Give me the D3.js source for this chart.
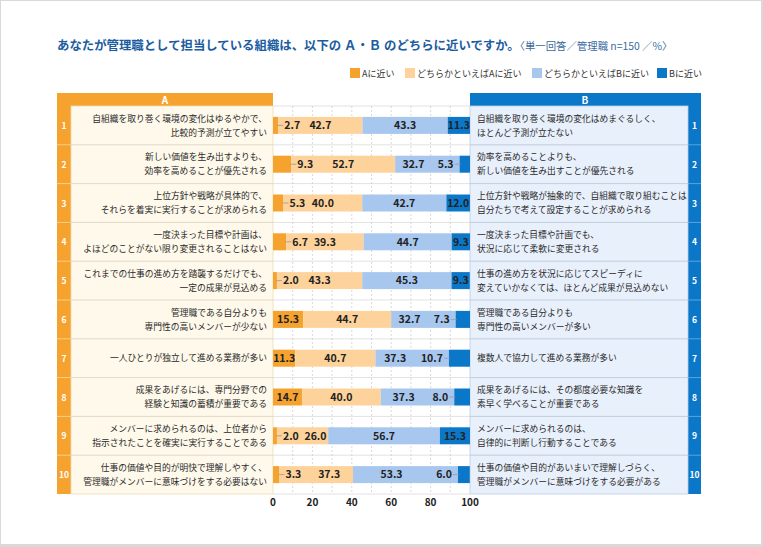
<!DOCTYPE html>
<html>
<head>
<meta charset="utf-8">
<script src="https://cdn.jsdelivr.net/npm/d3@7"></script>
<style>
  body { margin: 0; padding: 0; background: #fff; }
  svg { display: block; }
  text { font-family: "Noto Sans CJK JP", "Noto Sans", sans-serif; }
</style>
</head>
<body>
<div id="chart"></div>
<script>
// data (row 1..10, percent)
const rowNo = [1, 2, 3, 4, 5, 6, 7, 8, 9, 10];
const aNear = [2.7, 9.3, 5.3, 6.7, 2.0, 15.3, 11.3, 14.7, 2.0, 3.3];
const aLean = [42.7, 52.7, 40.0, 39.3, 43.3, 44.7, 40.7, 40.0, 26.0, 37.3];
const bLean = [43.3, 32.7, 42.7, 44.7, 45.3, 32.7, 37.3, 37.3, 56.7, 53.3];
const bNear = [11.3, 5.3, 12.0, 9.3, 9.3, 7.3, 10.7, 8.0, 15.3, 6.0];
const seriesNames = ['Aに近い', 'どちらかといえばAに近い', 'どちらかといえばBに近い', 'Bに近い'];
const xTicks = [0, 20, 40, 60, 80, 100];
const textA = [
  ['自組織を取り巻く環境の変化はゆるやかで、', '比較的予測が立てやすい'],
  ['新しい価値を生み出すよりも、', '効率を高めることが優先される'],
  ['上位方針や戦略が具体的で、', 'それらを着実に実行することが求められる'],
  ['一度決まった目標や計画は、', 'よほどのことがない限り変更されることはない'],
  ['これまでの仕事の進め方を踏襲するだけでも、', '一定の成果が見込める'],
  ['管理職である自分よりも', '専門性の高いメンバーが少ない'],
  ['一人ひとりが独立して進める業務が多い'],
  ['成果をあげるには、専門分野での', '経験と知識の蓄積が重要である'],
  ['メンバーに求められるのは、上位者から', '指示されたことを確実に実行することである'],
  ['仕事の価値や目的が明快で理解しやすく、', '管理職がメンバーに意味づけをする必要はない']
];
const textB = [
  ['自組織を取り巻く環境の変化はめまぐるしく、', 'ほとんど予測が立たない'],
  ['効率を高めることよりも、', '新しい価値を生み出すことが優先される'],
  ['上位方針や戦略が抽象的で、自組織で取り組むことは', '自分たちで考えて設定することが求められる'],
  ['一度決まった目標や計画でも、', '状況に応じて柔軟に変更される'],
  ['仕事の進め方を状況に応じてスピーディに', '変えていかなくては、ほとんど成果が見込めない'],
  ['管理職である自分よりも', '専門性の高いメンバーが多い'],
  ['複数人で協力して進める業務が多い'],
  ['成果をあげるには、その都度必要な知識を', '素早く学べることが重要である'],
  ['メンバーに求められるのは、', '自律的に判断し行動することである'],
  ['仕事の価値や目的があいまいで理解しづらく、', '管理職がメンバーに意味づけをする必要がある']
];
// rows whose "Bに近い" label is pulled out to the left with a leader
const calloutB = [2, 6, 7, 8, 10];

const W = 763, H = 547;
const colors = ['#f6a22f', '#fdd39b', '#a8c7ee', '#0b77c9'];
const numFont = '"Liberation Sans Narrow", "Arial Narrow", "Liberation Sans", sans-serif';

const svg = d3.select('#chart').append('svg').attr('width', W).attr('height', H);

// page card
svg.append('rect').attr('width', W).attr('height', H).attr('fill', '#d9d9d9');
svg.append('rect').attr('x', 1).attr('y', 1).attr('width', W - 3).attr('height', H - 4).attr('fill', '#fff');

// title
const title = svg.append('text').attr('x', 57).attr('y', 50).attr('fill', '#1b5d9f');
title.append('tspan').attr('font-size', 12.4).attr('font-weight', 'bold')
  .text('あなたが管理職として担当している組織は、以下の Ａ・Ｂ のどちらに近いですか。');
title.append('tspan').attr('font-size', 10.4).attr('fill', '#3a6a9e')
  .text('〈単一回答／管理職 n=150 ／%〉');

// legend
const legendX = [350, 405, 532, 657];
const leg = svg.append('g').selectAll('g').data(seriesNames).join('g')
  .attr('transform', (d, i) => `translate(${legendX[i]},68)`);
leg.append('rect').attr('width', 10).attr('height', 10).attr('fill', (d, i) => colors[i]);
leg.append('text').attr('x', 12).attr('y', 9).attr('font-size', 9).attr('fill', '#333').text(d => d);

// scales
const x = d3.scaleLinear().domain([0, 100]).range([273, 470]);
const y = d3.scaleBand().domain(rowNo).range([106, 494]);
const barH = 17;

// panel A
svg.append('rect').attr('x', 57).attr('y', 93).attr('width', 216).attr('height', 13).attr('fill', colors[0]);
svg.append('text').attr('x', 165).attr('y', 103.5).attr('text-anchor', 'middle')
  .attr('fill', '#fff').attr('font-size', 10).attr('font-weight', 'bold').text('A');
svg.append('rect').attr('x', 57).attr('y', 106).attr('width', 14).attr('height', 388).attr('fill', colors[0]);
svg.append('rect').attr('x', 71).attr('y', 106).attr('width', 202).attr('height', 388)
  .attr('fill', '#fef9ea').attr('stroke', '#ecdcb8').attr('stroke-width', 0.8);

// panel B
svg.append('rect').attr('x', 470).attr('y', 93).attr('width', 231).attr('height', 13).attr('fill', colors[3]);
svg.append('text').attr('x', 585).attr('y', 103.5).attr('text-anchor', 'middle')
  .attr('fill', '#fff').attr('font-size', 10).attr('font-weight', 'bold').text('B');
svg.append('rect').attr('x', 688).attr('y', 106).attr('width', 13).attr('height', 388).attr('fill', colors[3]);
svg.append('rect').attr('x', 470).attr('y', 106).attr('width', 218).attr('height', 388)
  .attr('fill', '#e8f0fc').attr('stroke', '#bccde6').attr('stroke-width', 0.8);

// row separators
const seps = rowNo.slice(1).map(r => y(r));
svg.append('g').selectAll('line').data(seps).join('line')
  .attr('x1', 71).attr('x2', 273).attr('y1', d => d).attr('y2', d => d)
  .attr('stroke', '#d9d2c2').attr('stroke-width', 0.8);
svg.append('g').selectAll('line').data(seps).join('line')
  .attr('x1', 470).attr('x2', 688).attr('y1', d => d).attr('y2', d => d)
  .attr('stroke', '#b9c4d4').attr('stroke-width', 0.8);
svg.append('g').selectAll('line').data(seps).join('line')
  .attr('x1', 57).attr('x2', 71).attr('y1', d => d).attr('y2', d => d)
  .attr('stroke', '#fcd7a3').attr('stroke-width', 0.8);
svg.append('g').selectAll('line').data(seps).join('line')
  .attr('x1', 688).attr('x2', 701).attr('y1', d => d).attr('y2', d => d)
  .attr('stroke', '#6fb0e2').attr('stroke-width', 0.8);

// row numbers
['57', '688'].forEach((left, k) => {
  svg.append('g').selectAll('text').data(rowNo).join('text')
    .attr('x', +left + (k ? 6.5 : 7)).attr('y', d => y(d) + y.bandwidth() / 2 + 3.5)
    .attr('text-anchor', 'middle').attr('fill', '#fff').attr('font-size', 8.5).attr('font-weight', 'bold')
    .attr('font-family', '"Noto Sans", sans-serif')
    .text(d => d);
});

// statements
function statements(lines, xPos, anchor) {
  const g = svg.append('g');
  lines.forEach((ls, i) => {
    const cy = y(rowNo[i]) + y.bandwidth() / 2;
    ls.forEach((s, j) => {
      const off = ls.length === 1 ? 0 : (j === 0 ? -7 : 7);
      g.append('text').attr('x', xPos).attr('y', cy + off + 3.2)
        .attr('text-anchor', anchor).attr('font-size', 8.75).attr('fill', '#2a2a2a').text(s);
    });
  });
}
statements(textA, 267, 'end');
statements(textB, 477, 'start');

// plot grid
const plot = svg.append('g');
plot.selectAll('.hl').data(rowNo.map(r => y(r)).concat([494])).join('line')
  .attr('x1', 273).attr('x2', 470).attr('y1', d => d).attr('y2', d => d)
  .attr('stroke', '#dadada').attr('stroke-width', 0.8);
plot.selectAll('.vl').data(d3.range(10, 100, 10)).join('line')
  .attr('x1', d => x(d)).attr('x2', d => x(d)).attr('y1', 106).attr('y2', 494)
  .attr('stroke', '#c9c9c9').attr('stroke-width', 0.7).attr('stroke-dasharray', '2,2');

// stacked bars
const table = rowNo.map((r, i) => ({ row: r, s0: aNear[i], s1: aLean[i], s2: bLean[i], s3: bNear[i] }));
const stack = d3.stack().keys(['s0', 's1', 's2', 's3'])(table);
const layers = plot.selectAll('.layer').data(stack).join('g').attr('fill', (d, i) => colors[i]);
layers.selectAll('rect').data(d => d).join('rect')
  .attr('x', d => x(d[0])).attr('width', d => x(Math.min(d[1], 100)) - x(d[0]))
  .attr('y', d => y(d.data.row) + (y.bandwidth() - barH) / 2).attr('height', barH);

// value labels
const lab = svg.append('g').attr('font-family', numFont).attr('font-weight', 'bold')
  .attr('font-size', 10.5).attr('fill', '#222');
function addLabel(xc, cy, v, anchor) {
  return lab.append('text').attr('x', xc).attr('y', cy + 3.8).attr('text-anchor', anchor).text(v.toFixed(1));
}
function leader(x1, x2, cy) {
  lab.append('line').attr('x1', x1).attr('x2', x2).attr('y1', cy).attr('y2', cy)
    .attr('stroke', '#999').attr('stroke-width', 0.8);
}
table.forEach((d, i) => {
  const cy = y(d.row) + y.bandwidth() / 2;
  const c = [0, d.s0, d.s0 + d.s1, d.s0 + d.s1 + d.s2, 100];
  // Aに近い
  let aEnd = null;
  if (d.s0 < 10) {
    const t = addLabel(x(c[1]) + 6, cy, d.s0, 'start');
    leader(x(c[1]) - 1, x(c[1]) + 5, cy);
    aEnd = x(c[1]) + 6 + t.node().getComputedTextLength();
  } else {
    addLabel((x(c[0]) + x(c[1])) / 2, cy, d.s0, 'middle');
  }
  // どちらかといえばA
  const t1 = addLabel((x(c[1]) + x(c[2])) / 2, cy, d.s1, 'middle');
  if (aEnd !== null) {
    const half = t1.node().getComputedTextLength() / 2;
    if ((x(c[1]) + x(c[2])) / 2 - half < aEnd + 4) t1.attr('x', (aEnd + x(c[2])) / 2 + 2);
  }
  // Bに近い
  const t2 = addLabel((x(c[2]) + x(c[3])) / 2, cy, d.s2, 'middle');
  if (calloutB.includes(d.row)) {
    const t3 = addLabel(x(c[3]) - 6, cy, d.s3, 'end');
    leader(x(c[3]) - 5, x(c[3]) + 1, cy);
    const start = x(c[3]) - 6 - t3.node().getComputedTextLength();
    t2.attr('x', (x(c[2]) + start) / 2 - 3);
  } else {
    addLabel((x(c[3]) + x(c[4])) / 2, cy, d.s3, 'middle');
  }
});

// x axis labels
svg.append('g').selectAll('text').data(xTicks).join('text')
  .attr('x', d => x(d)).attr('y', 506).attr('text-anchor', 'middle')
  .attr('font-family', '"Noto Sans", sans-serif').attr('font-weight', 'bold')
  .attr('font-size', 10).attr('fill', '#222').text(d => d);
</script>
</body>
</html>
